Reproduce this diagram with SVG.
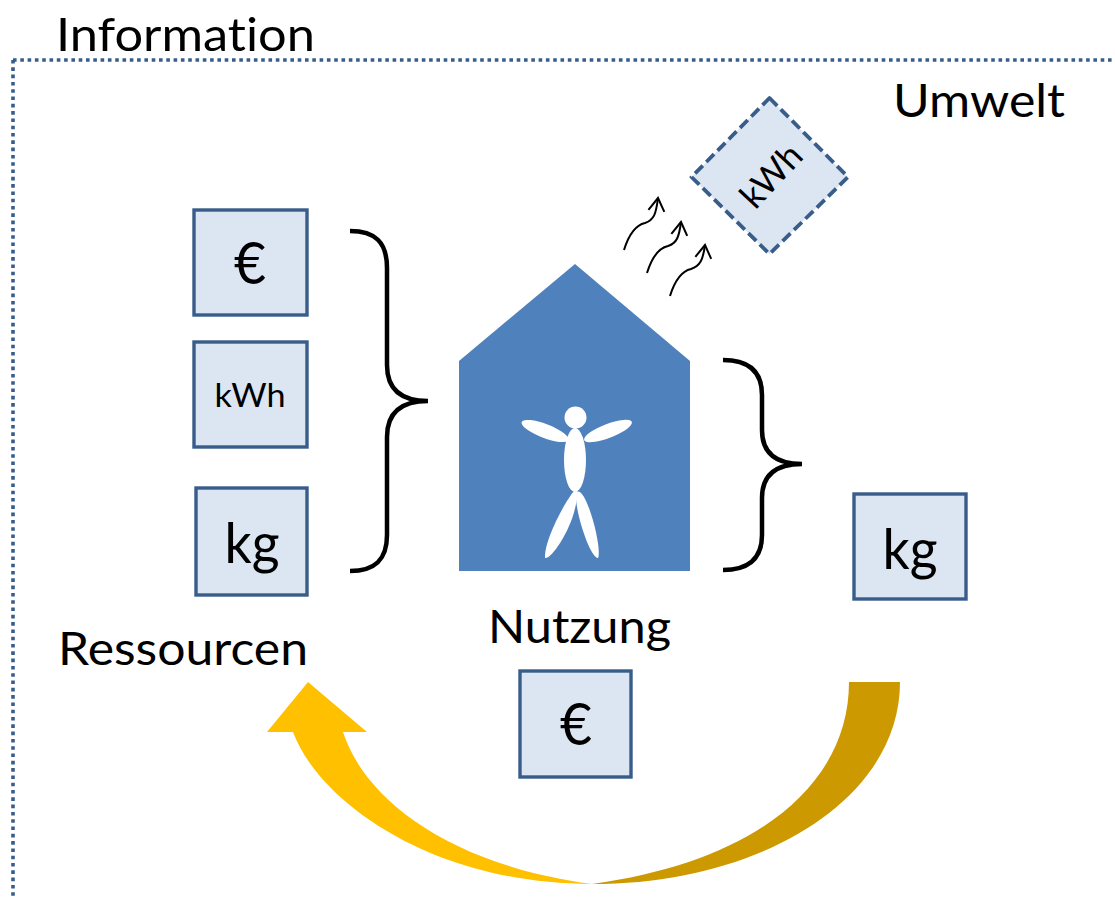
<svg xmlns="http://www.w3.org/2000/svg" width="1115" height="898" viewBox="0 0 1115 898">
<defs>
<marker id="open" markerUnits="userSpaceOnUse" markerWidth="24" markerHeight="24" viewBox="-18 -12 24 24" refX="0" refY="0" orient="auto"><path d="M-13,-8 L0,0 L-13,8" fill="none" stroke="#000" stroke-width="2"/></marker>
</defs>
<style>
.t{font-family:"Lato","Liberation Sans",sans-serif;fill:#000;font-variant-ligatures:none}
.box{fill:#DCE6F2;stroke:#385D8A;stroke-width:3.400}
.brace{fill:none;stroke:#000;stroke-width:4.500}
.wave{fill:none;stroke:#000;stroke-width:2;marker-end:url(#open)}
.w{fill:#fff}
</style>
<rect width="1115" height="898" fill="#fff"/>
<g id="information">
<path d="M13,60H1115M13,60V898" fill="none" stroke="#385D8A" stroke-width="3.600" stroke-dasharray="3.600 3.700"/>
<text class="t" x="56" y="51" font-size="46" textLength="259" lengthAdjust="spacingAndGlyphs">Information</text>
</g>
<g id="umwelt"><text class="t" x="893" y="117" font-size="46" textLength="172" lengthAdjust="spacingAndGlyphs">Umwelt</text></g>
<g id="res-euro"><rect class="box" x="194" y="210" width="113" height="105"/><text class="t" x="250" y="284" font-size="58" text-anchor="middle" textLength="32" lengthAdjust="spacingAndGlyphs">€</text></g>
<g id="res-kwh"><rect class="box" x="194" y="342" width="113" height="105"/><text class="t" x="250" y="407" font-size="33" text-anchor="middle" textLength="71" lengthAdjust="spacingAndGlyphs">kWh</text></g>
<g id="res-kg"><rect class="box" x="196" y="488" width="111" height="107"/><text class="t" x="252" y="563" font-size="57" text-anchor="middle" textLength="55" lengthAdjust="spacingAndGlyphs">kg</text></g>
<g id="ressourcen"><text class="t" x="58" y="665" font-size="46" textLength="250" lengthAdjust="spacingAndGlyphs">Ressourcen</text></g>
<g id="nutzung">
<path d="M575,264L690,361V571H459V361Z" fill="#4F81BD"/>
<circle class="w" cx="575.500" cy="417.500" r="11"/>
<ellipse class="w" cx="575" cy="460" rx="11" ry="32"/>
<ellipse class="w" cx="545" cy="431" rx="25" ry="7" transform="rotate(21 545 431)"/>
<ellipse class="w" cx="608" cy="431" rx="25.500" ry="7" transform="rotate(-21 608 431)"/>
<path class="w" d="M574,491C566,500 544,540 545,558C552,560 578,520 577,492Z"/>
<path class="w" d="M576,491C574,510 590,558 598,558C602,550 590,500 580,492Z"/>
<text class="t" x="488" y="643" font-size="46" textLength="183" lengthAdjust="spacingAndGlyphs">Nutzung</text>
</g>
<g id="use-euro"><rect class="box" x="520" y="671" width="111" height="106"/><text class="t" x="576" y="745" font-size="58" text-anchor="middle" textLength="32" lengthAdjust="spacingAndGlyphs">€</text></g>
<g id="env-kg"><rect class="box" x="854" y="494" width="112" height="105"/><text class="t" x="910" y="569" font-size="57" text-anchor="middle" textLength="55" lengthAdjust="spacingAndGlyphs">kg</text></g>
<g id="env-kwh"><path d="M769.500,98L848,177L769.500,254L691.500,177Z" fill="#DCE6F2" stroke="#385D8A" stroke-width="3.800" stroke-dasharray="11 5" stroke-linejoin="round"/><text class="t" x="0" y="0" font-size="35" text-anchor="middle" transform="translate(780,184) rotate(-47)">kWh</text></g>
<g id="connectors">
<path class="brace" d="M350,231C375,231 387,242 387,268V365C387,388 400,401 428,401C400,401 387,414 387,437V535C387,560 375,571 350,571"/>
<path class="brace" d="M723,360C748,360 762,371 762,395V430C762,452 775,464 802,464C775,464 762,476 762,498V535C762,559 748,570 723,570"/>
<path class="wave" d="M624,250C629,234 636,225 645,223C654,220 656,214 658,198"/>
<path class="wave" d="M647,273C652,257 659,248 668,246C677,243 679,237 681,222"/>
<path class="wave" d="M670,296C675,280 682,271 691,269C700,266 703,260 705,245"/>
<path d="M308,682L367,732H343C365,800 450,865 592,884C430,884 318,800 293,732H267Z" fill="#FFC000"/>
<path d="M849,682H900C900,800 760,884 592,884C755,862 849,785 849,682Z" fill="#CC9900"/>
</g>
</svg>
